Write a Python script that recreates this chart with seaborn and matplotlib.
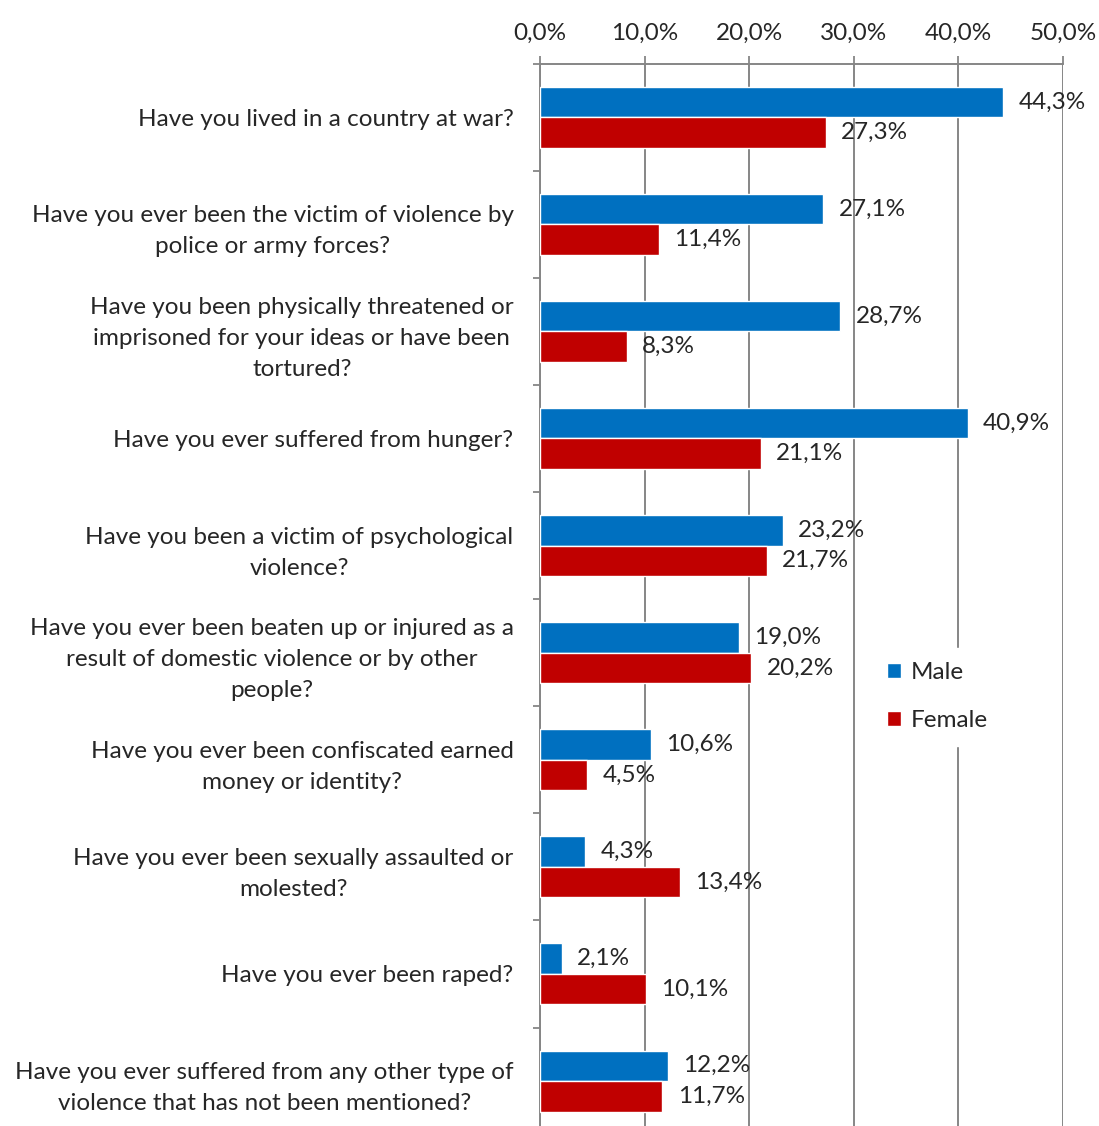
import pandas as pd
import numpy as np
import matplotlib
matplotlib.use('Agg')
import matplotlib.pyplot as plt
import seaborn as sns
from matplotlib.ticker import FixedLocator

# data
questions = [
    "Have you lived in a country at war?",
    "Have you ever been the victim of violence by\npolice or army forces?",
    "Have you been physically threatened or\nimprisoned for your ideas or have been\ntortured?",
    "Have you ever suffered from hunger?",
    "Have you been a victim of psychological\nviolence?",
    "Have you ever been beaten up or injured as a\nresult of domestic violence or by other\npeople?",
    "Have you ever been confiscated earned\nmoney or identity?",
    "Have you ever been sexually assaulted or\nmolested?",
    "Have you ever been raped?",
    "Have you ever suffered from any other type of\nviolence that has not been mentioned?",
]
male = [44.3, 27.1, 28.7, 40.9, 23.2, 19.0, 10.6, 4.3, 2.1, 12.2]
female = [27.3, 11.4, 8.3, 21.1, 21.7, 20.2, 4.5, 13.4, 10.1, 11.7]
x_ticks = [0, 10, 20, 30, 40, 50]

df = pd.DataFrame({
    'question': questions * 2,
    'value': male + female,
    'gender': ['Male'] * len(male) + ['Female'] * len(female),
})

sns.set_style('white')
plt.rcParams['font.family'] = ['Lato', 'DejaVu Sans']
fs = 17.5

fig = plt.figure(figsize=(10.99, 11.26), dpi=100)
ax = fig.add_axes([540 / 1099, (1126 - 1134.6) / 1126, 523 / 1099, 1071 / 1126])

sns.barplot(data=df, x='value', y='question', hue='gender', orient='h',
            palette={'Male': '#0070C0', 'Female': '#C00000'}, saturation=1,
            width=0.57, ax=ax, zorder=3)

ax.set_xlim(0, 50)
ax.set_ylim(9.5, -0.5)
ax.set_xlabel('')
ax.set_ylabel('')

ax.xaxis.tick_top()
ax.set_xticks(x_ticks)
ax.set_xticklabels([f'{t:.1f}%'.replace('.', ',') for t in x_ticks], fontsize=fs)
ax.tick_params(axis='x', which='major', direction='out', length=6, width=1.3,
               color='#868686', pad=8)
ax.grid(axis='x', color='#868686', linewidth=1.4, zorder=0)

ax.yaxis.set_minor_locator(FixedLocator(np.arange(-0.5, 10, 1)))
ax.tick_params(axis='y', which='major', length=0, pad=19, labelsize=fs)
ax.tick_params(axis='y', which='minor', direction='out', length=5, width=1.3,
               color='#868686', left=True)
for lab in ax.get_yticklabels():
    lab.set_multialignment('center')
    lab.set_linespacing(1.6)

for side in ['right', 'bottom']:
    ax.spines[side].set_visible(False)
for side in ['top', 'left']:
    ax.spines[side].set_color('#868686')
    ax.spines[side].set_linewidth(1.4)

# value labels
for cont in ax.containers:
    labs = [f'{b.get_width():.1f}%'.replace('.', ',') for b in cont]
    ax.bar_label(cont, labels=labs, padding=11, fontsize=fs)

leg = ax.legend(loc='center left', bbox_to_anchor=(0.612, 0.409), frameon=True,
                framealpha=1, edgecolor='white', fontsize=fs, handlelength=0.6,
                handleheight=0.6, handletextpad=0.4, labelspacing=1.1, borderpad=0.6)
leg.set_zorder(5)

fig.savefig('out.png', dpi=100)
